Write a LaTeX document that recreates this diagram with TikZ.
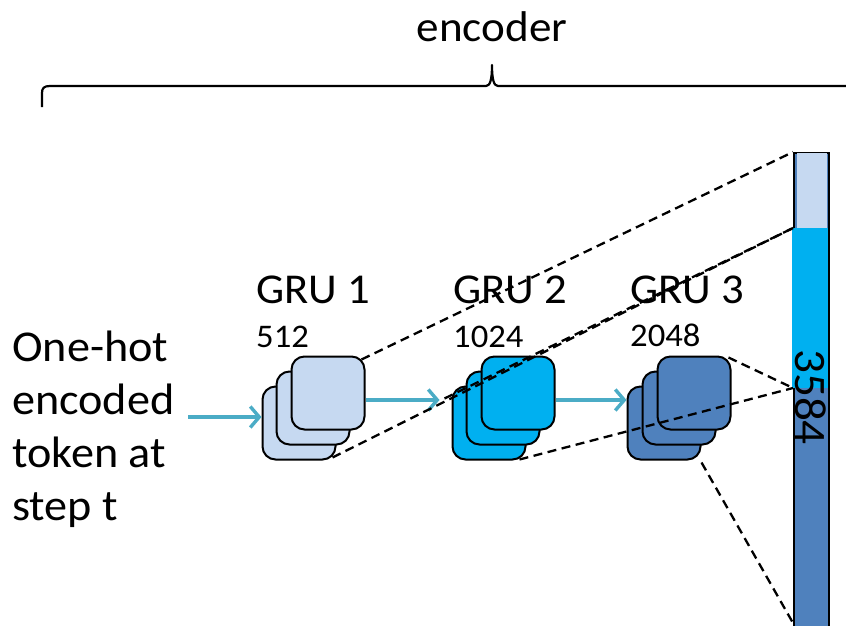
\documentclass[tikz,border=0pt]{standalone}
\usepackage{fontspec}
\setmainfont{Carlito}[FakeStretch=1.05]
\usetikzlibrary{arrows.meta,calc}

\definecolor{gruLight}{HTML}{C6D9F1}
\definecolor{gruCyan}{HTML}{00B0F0}
\definecolor{gruDark}{HTML}{4F81BD}
\definecolor{flowTeal}{HTML}{4BACC6}

\tikzset{
  grubox/.style={draw=black, line width=2pt, rounded corners=13pt,
    minimum width=73pt, minimum height=73pt, inner sep=0pt, fill=#1},
  flow/.style={draw=flowTeal, line width=3.4pt,
    -{Straight Barb[length=9pt,width=21pt,line width=3.4pt]}},
  proj/.style={draw=black, line width=2.3pt, dash pattern=on 9pt off 5.5pt},
  label/.style={inner sep=0pt, anchor=base west},
}

\begin{document}
\begin{tikzpicture}[x=1pt,y=-1pt]
\useasboundingbox (0,0) rectangle (846,626);
\clip (0,0) rectangle (846,626);

% brace over the encoder
\draw[line width=2.2pt, line join=round]
  (42,107) -- (42,93) .. controls (42,88) and (44,86) .. (50,86) -- (486,86)
  .. controls (490,86) and (492,80) .. (492,65)
  .. controls (492,80) and (494,86) .. (498,86) -- (860,86);
\node[inner sep=0pt, anchor=base, font=\fontsize{43}{50}\selectfont] (enc) at (492,42) {encoder};

% input text
\node[inner sep=0pt, anchor=north west, align=left,
      font=\fontsize{44}{53}\selectfont] (inp) at (12,331)
  {One-hot\\encoded\\token at\\step t};

% GRU stacks (back, middle, front)
\node[grubox=gruLight] (g1a) at (299,423) {};
\node[grubox=gruLight] (g1b) at (313,408) {};
\node[grubox=gruLight] (g1c) at (328,393) {};

\node[grubox=gruCyan] (g2a) at (489,423) {};
\node[grubox=gruCyan] (g2b) at (503,408) {};
\node[grubox=gruCyan] (g2c) at (518,393) {};

\node[grubox=gruDark] (g3a) at (664,423) {};
\node[grubox=gruDark] (g3b) at (679,408) {};
\node[grubox=gruDark] (g3c) at (694,393) {};

% layer titles and sizes
\node[label, font=\fontsize{42.5}{48}\selectfont] (t1) at (256,303) {GRU 1};
\node[label, font=\fontsize{33}{38}\selectfont] (n1) at (256,347) {512};
\node[label, font=\fontsize{42.5}{48}\selectfont] (t2) at (453,303) {GRU 2};
\node[label, font=\fontsize{33}{38}\selectfont] (n2) at (453,347) {1024};
\node[label, font=\fontsize{42.5}{48}\selectfont] (t3) at (630,303) {GRU 3};
\node[label, font=\fontsize{33}{38}\selectfont] (n3) at (630,346) {2048};

% concatenated state vector
\node[draw=black, line width=2pt, fill=gruDark, inner sep=0pt,
      minimum width=35pt, minimum height=520pt, anchor=north west] (bar) at (793,152) {};
\fill[gruLight] (797,153) rectangle (827,228);
\fill[gruCyan] (792,228) rectangle (828.2,388);
\node[rotate=-90, inner sep=0pt, font=\fontsize{45}{50}\selectfont] (dim) at (811,397) {3584};

\coordinate (b0) at (793,152);
\coordinate (b1) at (793,228);
\coordinate (b2) at (793,388);
\coordinate (b3) at (793,623);

% input and recurrent flow
\coordinate (src) at (188,417);
\draw[flow] (src) -- (src -| g1a.west);
\draw[flow] ([yshift=-7pt]g1c.east) -- ([yshift=-7pt, xshift=-12pt]g1c.east -| g2a.west);
\draw[flow] ([yshift=-7pt]g2c.east) -- ([yshift=-7pt]g2c.east -| g3a.west);

% projections into the state vector
\draw[proj] ([shift={(-4pt,-4pt)}]g1c.north east) -- (b0);
\draw[proj] ([shift={(-4pt,3pt)}]g1a.south east) -- (b1);
\draw[proj] ([shift={(-7pt,-13pt)}]g2a.north west) -- (b1);
\draw[proj] ([shift={(-7pt,1pt)}]g2a.south east) -- (b2);
\draw[proj] ([shift={(-3pt,-2pt)}]g3c.north east) -- (b2);
\draw[proj] ([shift={(0pt,-2pt)}]g3a.south east) -- (b3);
\end{tikzpicture}
\end{document}
